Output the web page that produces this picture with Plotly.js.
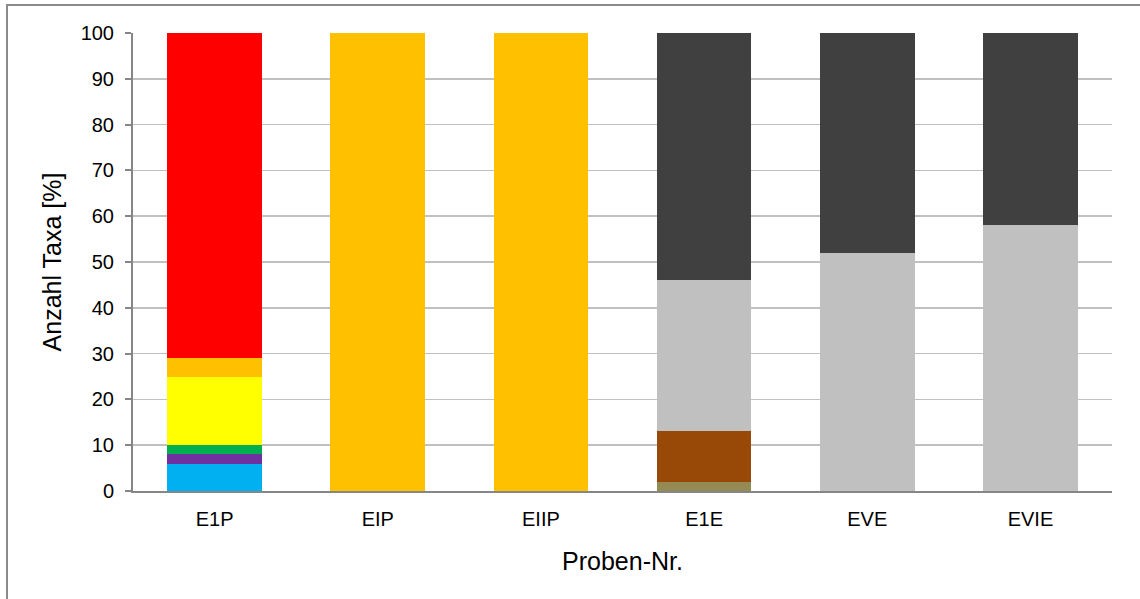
<!DOCTYPE html>
<html>
<head>
<meta charset="utf-8">
<script src="https://cdn.plot.ly/plotly-3.0.1.min.js"></script>
<style>
  html, body { margin: 0; padding: 0; background: #fff; }
  #wrap { position: relative; width: 1140px; height: 599px; }
  #chart { width: 1140px; height: 599px; }
  #frame { position: absolute; left: 6px; top: 4px; right: -2px; bottom: -2px;
           border-top: 2px solid #8a8a8a; border-left: 2px solid #8a8a8a; pointer-events: none; }
</style>
</head>
<body>
<div id="wrap">
  <div id="chart"></div>
  <div id="frame"></div>
</div>
<script>
// Samples
const samples = ["E1P", "EIP", "EIIP", "E1E", "EVE", "EVIE"];

// Share of taxa per group [%], one array per stacked segment (bottom to top)
const groupBlue      = [6, 0, 0, 0, 0, 0];
const groupPurple    = [2, 0, 0, 0, 0, 0];
const groupGreen     = [2, 0, 0, 0, 0, 0];
const groupYellow    = [15, 0, 0, 0, 0, 0];
const groupOrange    = [4, 100, 100, 0, 0, 0];
const groupRed       = [71, 0, 0, 0, 0, 0];
const groupOlive     = [0, 0, 0, 2, 0, 0];
const groupBrown     = [0, 0, 0, 11, 0, 0];
const groupLightGrey = [0, 0, 0, 33, 52, 58];
const groupDarkGrey  = [0, 0, 0, 54, 48, 42];

const yTicks = [0, 10, 20, 30, 40, 50, 60, 70, 80, 90, 100];

const series = [
  { name: "Gruppe 1",  y: groupBlue,      color: "#00B0F0" },
  { name: "Gruppe 2",  y: groupPurple,    color: "#7030A0" },
  { name: "Gruppe 3",  y: groupGreen,     color: "#00B050" },
  { name: "Gruppe 4",  y: groupYellow,    color: "#FFFF00" },
  { name: "Gruppe 5",  y: groupOrange,    color: "#FFC000" },
  { name: "Gruppe 6",  y: groupRed,       color: "#FF0000" },
  { name: "Gruppe 7",  y: groupOlive,     color: "#948A54" },
  { name: "Gruppe 8",  y: groupBrown,     color: "#984807" },
  { name: "Gruppe 9",  y: groupLightGrey, color: "#C0C0C0" },
  { name: "Gruppe 10", y: groupDarkGrey,  color: "#404040" }
];

const traces = series.map(s => ({
  type: "bar",
  name: s.name,
  x: samples,
  y: s.y,
  marker: { color: s.color, line: { width: 0 } },
  hoverinfo: "x+y+name"
}));

const layout = {
  width: 1140,
  height: 599,
  barmode: "stack",
  bargap: 0.42,
  showlegend: false,
  paper_bgcolor: "rgba(0,0,0,0)",
  plot_bgcolor: "#ffffff",
  margin: { l: 133, r: 28, t: 33, b: 108 },
  font: { family: "Liberation Sans, Arial, sans-serif", color: "#000" },
  xaxis: {
    type: "category",
    showline: true,
    linecolor: "#868686",
    linewidth: 2,
    ticks: "",
    tickfont: { size: 20, color: "#000" },
    ticklabelstandoff: 9,
    title: { text: "Proben-Nr.", font: { size: 25, color: "#000" }, standoff: 23 },
    fixedrange: true
  },
  yaxis: {
    range: [0, 100],
    tickvals: yTicks,
    ticktext: yTicks.map(String),
    showline: true,
    linecolor: "#868686",
    linewidth: 2,
    ticks: "outside",
    ticklen: 6,
    tickwidth: 2,
    tickcolor: "#868686",
    showgrid: true,
    gridcolor: "#C0C0C0",
    gridwidth: 1.5,
    zeroline: false,
    tickfont: { size: 20, color: "#000" },
    ticklabelstandoff: 7,
    title: { text: "Anzahl Taxa [%]", font: { size: 25, color: "#000" }, standoff: 12 },
    fixedrange: true
  }
};

Plotly.newPlot("chart", traces, layout, { displayModeBar: false, staticPlot: true });
</script>
</body>
</html>
